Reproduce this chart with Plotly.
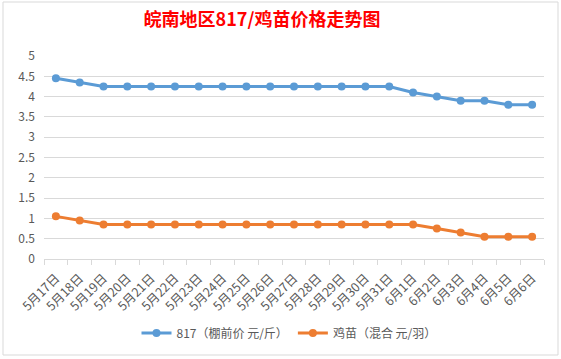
import plotly.graph_objects as go

categories = ["5月17日", "5月18日", "5月19日", "5月20日", "5月21日", "5月22日", "5月23日",
              "5月24日", "5月25日", "5月26日", "5月27日", "5月28日", "5月29日", "5月30日",
              "5月31日", "6月1日", "6月2日", "6月3日", "6月4日", "6月5日", "6月6日"]
price_817 = [4.45, 4.35, 4.25, 4.25, 4.25, 4.25, 4.25, 4.25, 4.25, 4.25, 4.25, 4.25, 4.25,
             4.25, 4.25, 4.1, 4.0, 3.9, 3.9, 3.8, 3.8]
price_chick = [1.05, 0.95, 0.85, 0.85, 0.85, 0.85, 0.85, 0.85, 0.85, 0.85, 0.85, 0.85, 0.85,
               0.85, 0.85, 0.85, 0.75, 0.65, 0.55, 0.55, 0.55]
y_ticks = [0, 0.5, 1, 1.5, 2, 2.5, 3, 3.5, 4, 4.5, 5]
y_tick_text = ["0", "0.5", "1", "1.5", "2", "2.5", "3", "3.5", "4", "4.5", "5"]
series_names = ["817（棚前价 元/斤）", "鸡苗（混合 元/羽）"]
title_text = "皖南地区817/鸡苗价格走势图"

font_family = "Noto Sans CJK SC, Noto Sans, sans-serif"

fig = go.Figure()
fig.add_trace(go.Scatter(x=categories, y=price_817, mode="lines+markers", name=series_names[0],
                         line=dict(color="#5B9BD5", width=3),
                         marker=dict(color="#5B9BD5", size=8)))
fig.add_trace(go.Scatter(x=categories, y=price_chick, mode="lines+markers", name=series_names[1],
                         line=dict(color="#ED7D31", width=3),
                         marker=dict(color="#ED7D31", size=8)))

fig.update_layout(
    width=561, height=359,
    margin=dict(l=44, r=17, t=56, b=100, autoexpand=False),
    paper_bgcolor="white", plot_bgcolor="white",
    font=dict(family=font_family, color="#595959", size=12),
    title=dict(text=title_text, x=262/561, xanchor="center", y=0.945, yanchor="middle",
               font=dict(family=font_family, size=18, color="#FF0000", weight="bold")),
    showlegend=True,
    legend=dict(orientation="h", x=0.49, xanchor="center", y=26/359, yanchor="middle",
                yref="container",
                font=dict(size=12, color="#595959"), itemwidth=30, tracegroupgap=0),
    xaxis=dict(type="category", showgrid=False, showline=True, linecolor="#D9D9D9", linewidth=1,
               ticks="outside", tickson="boundaries", ticklen=5, tickcolor="#D9D9D9",
               tickangle=-45, tickfont=dict(size=12.5, color="#595959"), range=[-0.5, 20.5],
               ticklabelstandoff=6, automargin=False),
    yaxis=dict(range=[0, 5], tickvals=y_ticks, ticktext=y_tick_text, showgrid=True,
               gridcolor="#D9D9D9", gridwidth=1, zeroline=False, showline=False,
               ticks="", ticklabelstandoff=8, tickfont=dict(size=12, color="#595959"),
               automargin=False),
)

fig.add_shape(type="rect", xref="paper", yref="paper",
              x0=-41/500, x1=514/500, y0=-96/203, y1=(259-2)/203,
              line=dict(color="#D9D9D9", width=1), fillcolor="rgba(0,0,0,0)", layer="below")

fig.write_html("out.html", config={"displayModeBar": False},
               post_script="document.body.style.margin='0';document.body.style.overflow='hidden';")
